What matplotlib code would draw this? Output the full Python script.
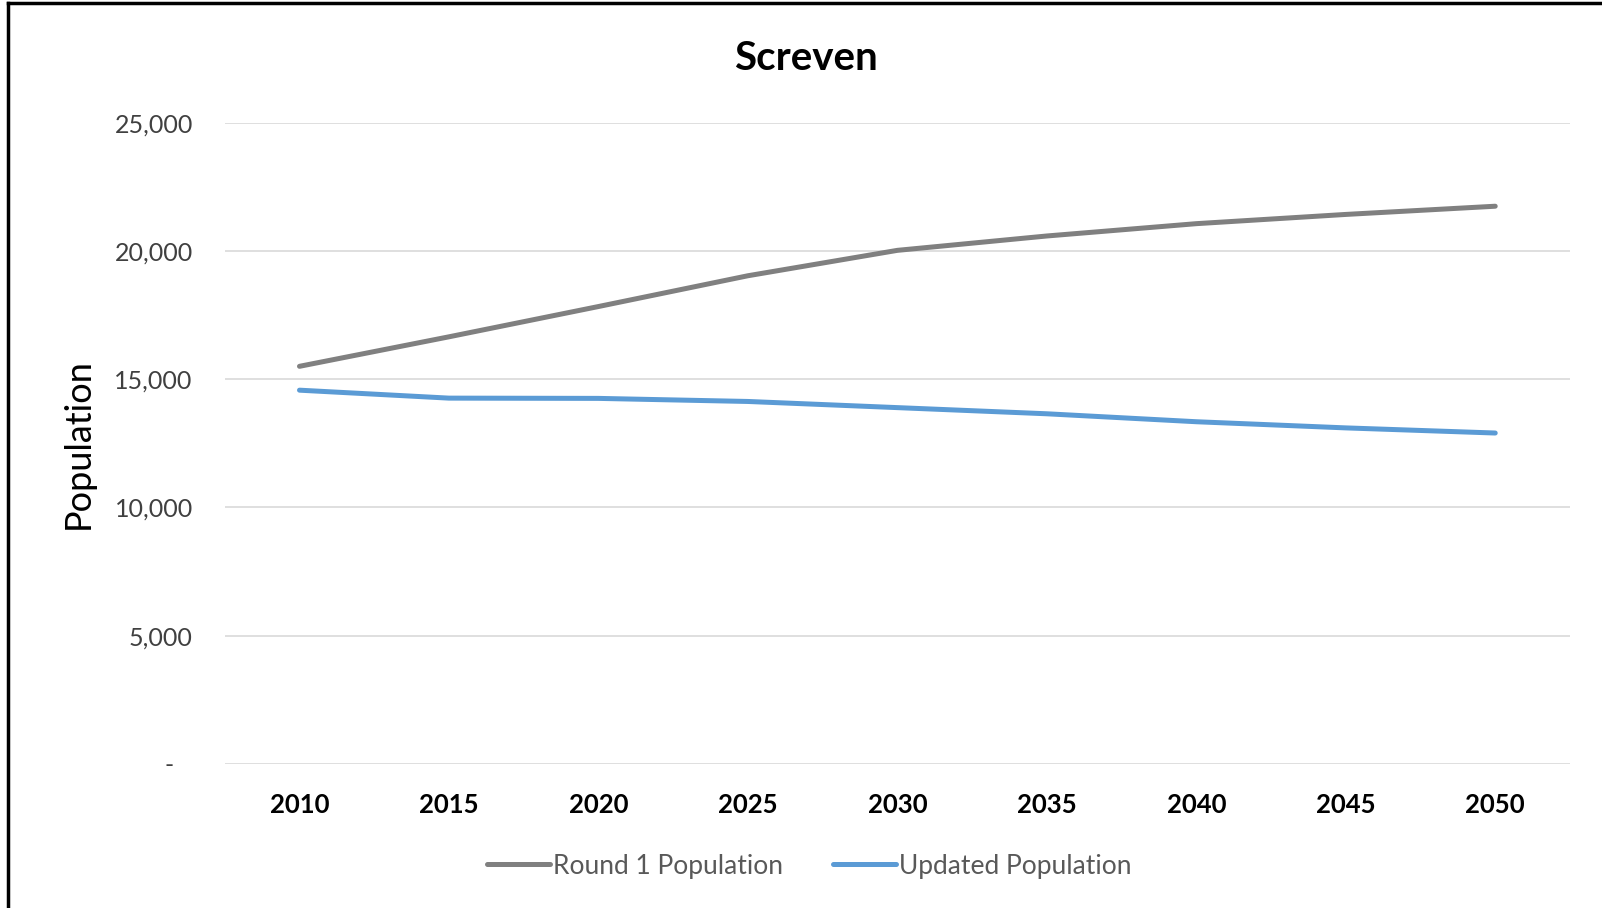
import matplotlib.pyplot as plt
from matplotlib.lines import Line2D
from matplotlib.ticker import FuncFormatter

plt.rcParams["font.family"] = ["Lato", "DejaVu Sans"]

years = [2010, 2015, 2020, 2025, 2030, 2035, 2040, 2045, 2050]
round1 = [15500, 16650, 17830, 19030, 20020, 20580, 21060, 21420, 21740]
updated = [14570, 14260, 14250, 14130, 13890, 13650, 13340, 13100, 12900]
yticks = [0, 5000, 10000, 15000, 20000, 25000]

gray = "#808080"
blue = "#5B9BD5"

fig = plt.figure(figsize=(16.02, 9.08), dpi=100)
ax = fig.add_axes([0.1403, 0.1586, 0.8397, 0.7064])

ax.plot(years, round1, color=gray, linewidth=3.6, solid_capstyle="round")
ax.plot(years, updated, color=blue, linewidth=3.6, solid_capstyle="round")

ax.set_xlim(2007.5, 2052.5)
ax.set_ylim(0, 25000)
ax.set_xticks(years)
ax.set_yticks(yticks)
# accounting-style zero shown as a dash
ax.yaxis.set_major_formatter(FuncFormatter(lambda v, p: "-   " if v == 0 else f"{int(v):,}"))

ax.grid(axis="y", color="#D9D9D9", linewidth=1.2)
ax.set_axisbelow(True)
for s in ax.spines.values():
    s.set_visible(False)
ax.tick_params(axis="both", length=0)
ax.tick_params(axis="y", labelsize=18, labelcolor="#404040", pad=23)
ax.tick_params(axis="x", labelsize=18.5, pad=21)
for lab in ax.get_xticklabels():
    lab.set_fontweight("bold")

ax.set_ylabel("Population", fontsize=26, labelpad=14)
fig.text(0.503, 0.936, "Screven", ha="center", va="center", fontsize=29, fontweight="bold")

handles = [Line2D([], [], color=gray, linewidth=3.6, solid_capstyle="round"),
           Line2D([], [], color=blue, linewidth=3.6, solid_capstyle="round")]
fig.legend(handles, ["Round 1 Population", "Updated Population"], loc="center",
           bbox_to_anchor=(0.505, 0.046), ncol=2, frameon=False, fontsize=19,
           labelcolor="#595959", handlelength=2.4, handletextpad=0.1, columnspacing=1.9)

# frame on the left and top edges
fig.add_artist(Line2D([0.005, 0.005], [0, 0.9965], color="black", linewidth=2.5, transform=fig.transFigure))
fig.add_artist(Line2D([0.005, 1.0], [0.9965, 0.9965], color="black", linewidth=2.5, transform=fig.transFigure))

fig.savefig("out.png", dpi=100)
